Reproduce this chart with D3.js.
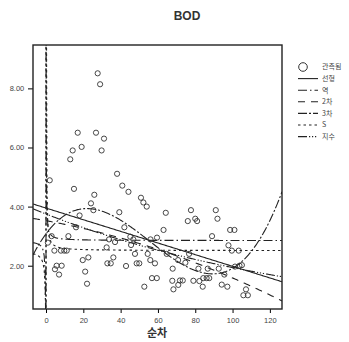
<!DOCTYPE html>
<html>
<head>
<meta charset="utf-8">
<script src="https://cdn.jsdelivr.net/npm/d3@7"></script>
<style>
  body { margin: 0; background: #fff; }
  svg { display: block; font-family: "Liberation Sans", Arial, "Noto Sans CJK KR", sans-serif; }
  .tick text { fill: #444; }
</style>
</head>
<body>
<svg id="chart" width="349" height="342"></svg>
<script>
// observed BOD values (sequence number, value)
const obsX = [27.7, 29, 17, 26.8, 31.1, 19.1, 14.3, 29.8, 13, 38.1, 2, 40.9, 44.2, 15, 25.9,
  50.9, 52.2, 54, 24.1, 25.4, 39.3, 18, 64.2, 63, 77.7, 91, 76, 80, 81, 91.9, 98.7, 101, 89,
  16.1, 42, 3, 12, 1, 33.8, 37, 45.2, 46.8, 45.6, 4.5, 8, 9.8, 11.1, 32.5, 47.7, 19.7, 22.7,
  32.9, 34.7, 36.1, 42.9, 5.7, 8.4, 4.8, 7, 21, 22, 54.5, 55.9, 58.4, 52.7, 56.8, 59.4, 67.7,
  68.3, 48.6, 50, 56, 59.5, 97.8, 99.6, 103.3, 64.7, 76.7, 70.8, 74.7, 67.9, 81.7, 86.7, 92.6,
  101.3, 103.7, 105, 95.6, 71.8, 73.3, 79, 84.3, 86.1, 87.5, 82.2, 70.9, 84, 94.2, 97.2, 107.2,
  105.8, 108.2];
const obsY = [8.51, 8.14, 6.50, 6.50, 6.30, 6.02, 5.90, 5.90, 5.60, 5.11, 4.89, 4.71, 4.50, 4.60, 4.40,
  4.30, 4.14, 4.00, 4.11, 3.88, 3.81, 3.70, 3.79, 3.21, 3.88, 3.88, 3.51, 3.59, 3.51, 3.59, 3.21, 3.21, 3.00,
  3.30, 3.30, 3.00, 3.00, 2.78, 2.89, 2.80, 2.98, 2.89, 2.70, 2.51, 2.51, 2.51, 2.51, 2.62, 2.40, 2.19, 2.28,
  2.08, 2.08, 2.28, 1.99, 2.00, 2.00, 1.88, 1.70, 1.80, 1.39, 2.40, 2.19, 2.08, 1.29, 1.58, 1.58, 1.49,
  1.20, 2.08, 2.08, 2.89, 2.95, 2.69, 2.51, 2.51, 2.40, 2.40, 2.19, 2.10, 1.90, 1.90, 1.90, 1.90,
  1.97, 2.00, 2.02, 1.70, 1.50, 1.50, 1.49, 1.58, 1.58, 1.58, 1.48, 1.35, 1.29, 1.36, 1.29, 1.20,
  1.00, 1.00];

// fitted model coefficients
const linearCoef = [3.95, -0.0197];
const inverseCoef = [2.85, 0.5];
const quadCoef = [3.523, -0.011498, -0.00007875];
const cubicCoef = [3.078, 0.08499, -0.0024147, 0.00001448];
const sCoef = [0.92, 0.3];
const expCoef = [3.75, -0.0066];

const legendLabels = ["관측됨", "선형", "역", "2차", "3차", "S", "지수"];
const xTicks = [0, 20, 40, 60, 80, 100, 120];
const yTicks = [2, 4, 6, 8];

const models = [
  { name: "선형", dash: null, f: x => linearCoef[0] + linearCoef[1] * x },
  { name: "역", dash: "9,3,1.5,3", f: x => inverseCoef[0] + inverseCoef[1] / x },
  { name: "2차", dash: "7,6", f: x => quadCoef[0] + quadCoef[1] * x + quadCoef[2] * x * x },
  { name: "3차", dash: "9,2,2,2", f: x => cubicCoef[0] + cubicCoef[1] * x + cubicCoef[2] * x * x + cubicCoef[3] * x * x * x },
  { name: "S", dash: "2.5,3", f: x => Math.exp(sCoef[0] + sCoef[1] / x) },
  { name: "지수", dash: "9,2,1.2,1.8,1.2,1.8,1.2,2", f: x => expCoef[0] * Math.exp(expCoef[1] * x) },
];

const svg = d3.select("#chart");
const plotL = 33, plotR = 282, plotT = 45, plotB = 309;

const x = d3.scaleLinear().domain([-6.97, 126.5]).range([plotL, plotR]);
const y = d3.scaleLinear().domain([0.535, 9.468]).range([plotB, plotT]);

svg.append("text")
  .attr("x", 187).attr("y", 20)
  .attr("text-anchor", "middle")
  .attr("font-size", 12).attr("font-weight", "bold")
  .attr("fill", "#333")
  .text("BOD");

svg.append("defs").append("clipPath").attr("id", "clip")
  .append("rect").attr("x", plotL).attr("y", plotT)
  .attr("width", plotR - plotL).attr("height", plotB - plotT);

// x samples, with extra points near zero for the 1/x models
const xs = d3.range(-6.97, 126.5, 0.5).filter(v => Math.abs(v) > 1e-6)
  .concat([-0.2, -0.1, -0.05, -0.02, -0.01, -0.001, 0.001, 0.01, 0.02, 0.05, 0.1, 0.2, 126.5])
  .sort((a, b) => a - b);

const line = d3.line()
  .x(d => x(d[0]))
  .y(d => y(Math.max(-20, Math.min(30, d[1]))));

const curves = svg.append("g").attr("clip-path", "url(#clip)");
models.forEach(m => {
  curves.append("path")
    .datum(xs.map(v => [v, m.f(v)]))
    .attr("d", line)
    .attr("fill", "none")
    .attr("stroke", "#222")
    .attr("stroke-width", 1.1)
    .attr("stroke-dasharray", m.dash);
});

curves.selectAll(".point")
  .data(obsX.map((v, i) => [v, obsY[i]]))
  .join("circle")
  .attr("class", "point")
  .attr("cx", d => x(d[0]))
  .attr("cy", d => y(d[1]))
  .attr("r", 2.6)
  .attr("fill", "none")
  .attr("stroke", "#333")
  .attr("stroke-width", 0.9);

// axes
svg.append("g")
  .attr("transform", `translate(0,${plotB})`)
  .call(d3.axisBottom(x).tickValues(xTicks).tickSize(4).tickSizeOuter(0))
  .call(g => g.select(".domain").remove())
  .call(g => g.selectAll("text").attr("font-size", 7.5).attr("dy", "0.9em"));

svg.append("g")
  .attr("transform", `translate(${plotL},0)`)
  .call(d3.axisLeft(y).tickValues(yTicks).tickFormat(d3.format(".2f")).tickSize(5).tickSizeOuter(0))
  .call(g => g.select(".domain").remove())
  .call(g => g.selectAll("text").attr("font-size", 7.5).attr("dx", "-0.1em"));

svg.append("rect")
  .attr("x", plotL).attr("y", plotT)
  .attr("width", plotR - plotL).attr("height", plotB - plotT)
  .attr("fill", "none").attr("stroke", "#222").attr("stroke-width", 1.4);

svg.append("text")
  .attr("x", 157).attr("y", 337)
  .attr("text-anchor", "middle")
  .attr("font-size", 11).attr("font-weight", "bold")
  .attr("fill", "#333")
  .style("font-family", "'Noto Sans CJK KR', sans-serif")
  .text("순차");

// legend
const legend = svg.append("g").attr("transform", "translate(298,67)");
const rowH = 11.6;
legend.append("circle")
  .attr("cx", 5).attr("cy", 0).attr("r", 4.3)
  .attr("fill", "none").attr("stroke", "#333").attr("stroke-width", 1);

models.forEach((m, i) => {
  legend.append("line")
    .attr("x1", 0).attr("x2", 20)
    .attr("y1", (i + 1) * rowH).attr("y2", (i + 1) * rowH)
    .attr("stroke", "#222").attr("stroke-width", 1.1)
    .attr("stroke-dasharray", m.dash);
});

legend.selectAll(".lab")
  .data(legendLabels)
  .join("text")
  .attr("class", "lab")
  .attr("x", 24)
  .attr("y", (d, i) => i * rowH)
  .attr("dy", "0.35em")
  .attr("font-size", 7)
  .attr("fill", "#444")
  .style("font-family", "'Noto Sans CJK KR', sans-serif")
  .text(d => d);
</script>
</body>
</html>
